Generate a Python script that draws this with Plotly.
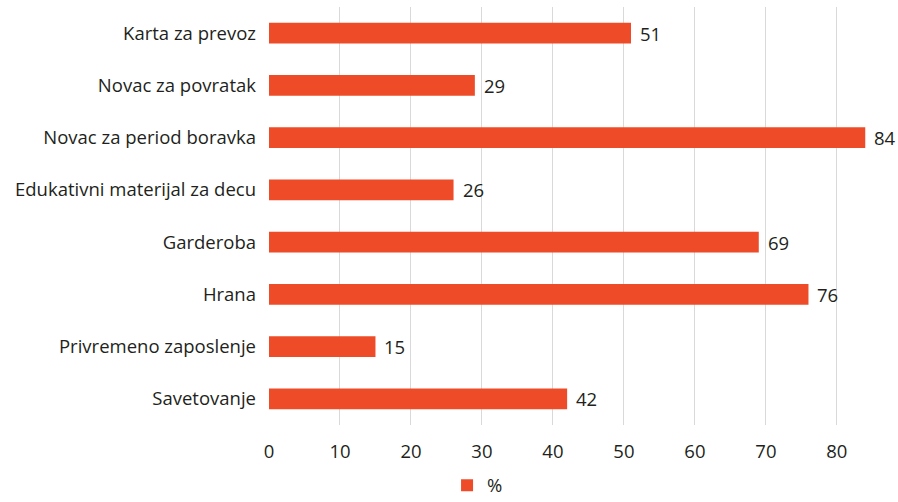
import plotly.graph_objects as go

categories = ["Karta za prevoz", "Novac za povratak", "Novac za period boravka",
              "Edukativni materijal za decu", "Garderoba", "Hrana",
              "Privremeno zaposlenje", "Savetovanje"]
values = [51, 29, 84, 26, 69, 76, 15, 42]
series_name = "%"
x_ticks = [0, 10, 20, 30, 40, 50, 60, 70, 80]

BAR = "#EE4B28"
TXT = "#231F20"
FONT = "Open Sans"
FS = 18.5

fig = go.Figure()
fig.add_trace(go.Bar(
    y=categories, x=values, orientation="h", name=series_name,
    marker=dict(color=BAR, line=dict(width=0)),
    width=0.4,
    showlegend=True,
))

for c, v in zip(categories, values):
    fig.add_annotation(x=v, y=c, text=str(v), showarrow=False,
                       xanchor="left", xshift=7,
                       font=dict(family=FONT, size=FS, color=TXT))

fig.update_layout(
    width=898, height=502,
    margin=dict(l=269, r=15, t=7, b=77, autoexpand=False),
    paper_bgcolor="white", plot_bgcolor="white",
    font=dict(family=FONT, size=FS, color=TXT),
    xaxis=dict(range=[0, 86.5], tickvals=x_ticks, showgrid=True,
               gridcolor="#D9D9D9", gridwidth=1.3, zeroline=False,
               showline=False, ticks="", automargin=False,
               ticklabelstandoff=13,
               tickfont=dict(size=FS, color=TXT)),
    yaxis=dict(autorange="reversed", showgrid=False, showline=False,
               ticks="", automargin=False, ticklabelstandoff=12,
               tickfont=dict(size=FS, color=TXT)),
    legend=dict(orientation="h", x=0.29, xanchor="left", y=-0.145, yanchor="middle",
                font=dict(size=FS, color=TXT)),
    bargap=0.6,
)
fig.write_html("out.html", config={"displayModeBar": False},
               post_script="document.body.style.margin='0';")
